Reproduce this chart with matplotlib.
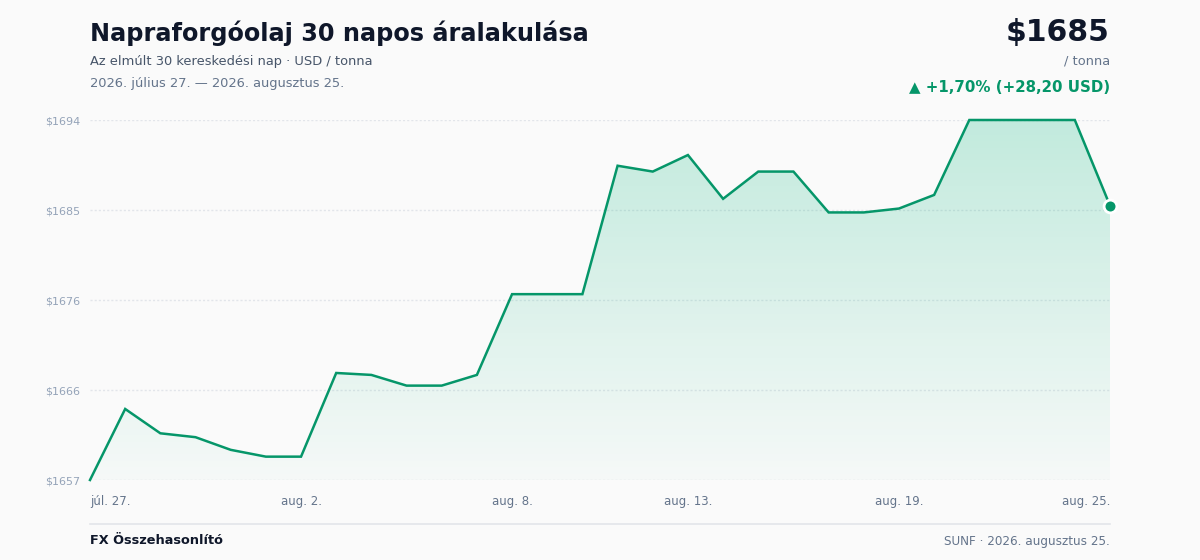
"""Napraforgóolaj 30 napos árgrafikon (USD / tonna)."""

import matplotlib

matplotlib.use("Agg")

import matplotlib.pyplot as plt
import numpy as np
from matplotlib.colors import LinearSegmentedColormap
from matplotlib.patches import Polygon

# --- adatok ---------------------------------------------------------------
days = list(range(30))
prices = [
    1657.0, 1664.3, 1661.8, 1661.4, 1660.1, 1659.4, 1659.4, 1668.0, 1667.8, 1666.7,
    1666.7, 1667.8, 1676.1, 1676.1, 1676.1, 1689.3, 1688.7, 1690.4, 1685.9, 1688.7,
    1688.7, 1684.5, 1684.5, 1684.9, 1686.3, 1694.0, 1694.0, 1694.0, 1694.0, 1685.2,
]
tick_days = [0, 6, 12, 17, 23, 29]
tick_labels = ["júl. 27.", "aug. 2.", "aug. 8.", "aug. 13.", "aug. 19.", "aug. 25."]

title = "Napraforgóolaj 30 napos áralakulása"
subtitle = "Az elmúlt 30 kereskedési nap · USD / tonna"
date_range = "2026. július 27. — 2026. augusztus 25."
price_label = "$1685"
unit_label = "/ tonna"
change_label = "▲ +1,70% (+28,20 USD)"
footer_left = "FX Összehasonlító"
footer_right = "SUNF · 2026. augusztus 25."

BG = "#fafafa"
GREEN = "#059669"
DARK = "#0f172a"
MUTED = "#64748b"
LIGHT = "#94a3b8"
GRID = "#e2e5ea"

W, H = 1200, 560


def fx(px):
    return px / W


def fy(py):
    return 1 - py / H


fig = plt.figure(figsize=(12, 5.6), dpi=100, facecolor=BG)
ax = fig.add_axes([fx(90), fy(480), fx(1110) - fx(90), (480 - 120) / H])
ax.set_facecolor(BG)

ymin, ymax = min(prices), max(prices)
ax.set_xlim(0, 29)
ax.set_ylim(ymin, ymax)

# gradient fill under the line
grad_cmap = LinearSegmentedColormap.from_list(
    "fade", [(0.063, 0.725, 0.506, 0.02), (0.063, 0.725, 0.506, 0.24)]
)
gradient = np.linspace(0, 1, 256).reshape(-1, 1)
img = ax.imshow(
    gradient,
    cmap=grad_cmap,
    aspect="auto",
    origin="lower",
    extent=[0, 29, ymin, ymax],
    interpolation="bicubic",
    zorder=1,
)
verts = [(days[0], ymin)] + list(zip(days, prices)) + [(days[-1], ymin)]
clip = Polygon(verts, closed=True, facecolor="none", edgecolor="none")
ax.add_patch(clip)
img.set_clip_path(clip)

ax.plot(days, prices, color=GREEN, lw=1.8, zorder=3, clip_on=False,
        solid_joinstyle="miter")
ax.scatter([days[-1]], [prices[-1]], s=85, color=GREEN, edgecolor="white",
           linewidth=2, zorder=4, clip_on=False)

# y grid / ticks
yticks = np.linspace(ymin, ymax, 5)
ax.set_yticks(yticks)
ax.set_yticklabels([f"${np.floor(v + 0.5):.0f}" for v in yticks])
for v in yticks:
    ax.axhline(v, color=GRID, lw=1.0, ls=(0, (1.5, 1.5)), zorder=0)

ax.set_xticks(tick_days)
ax.set_xticklabels(tick_labels)
xlabels = ax.get_xticklabels()
xlabels[0].set_horizontalalignment("left")
xlabels[-1].set_horizontalalignment("right")

ax.tick_params(axis="y", length=0, pad=7, labelsize=8, labelcolor=LIGHT)
ax.tick_params(axis="x", length=0, pad=11, labelsize=8.5, labelcolor=MUTED)
for side in ax.spines.values():
    side.set_visible(False)

# header
fig.text(fx(90), fy(33), title, fontsize=17.25, fontweight="bold", color=DARK,
         va="center", ha="left")
fig.text(fx(90), fy(61), subtitle, fontsize=9.35, color="#475569",
         va="center", ha="left")
fig.text(fx(90), fy(83), date_range, fontsize=9.35, color=MUTED,
         va="center", ha="left")

fig.text(fx(1110), fy(32), price_label, fontsize=21.5, fontweight="bold",
         color=DARK, va="center", ha="right")
fig.text(fx(1110), fy(61), unit_label, fontsize=9.35, color=MUTED,
         va="center", ha="right")
fig.text(fx(1110), fy(87), change_label, fontsize=10.8, fontweight="bold",
         color=GREEN, va="center", ha="right")

# footer
fig.add_artist(plt.Line2D([fx(90), fx(1110)], [fy(524), fy(524)],
                          color=GRID, lw=1.2))
fig.text(fx(90), fy(541), footer_left, fontsize=9.3, fontweight="bold",
         color=DARK, va="center", ha="left")
fig.text(fx(1110), fy(541), footer_right, fontsize=8.65, color=MUTED,
         va="center", ha="right")

fig.savefig("out.png", dpi=100, facecolor=BG)
